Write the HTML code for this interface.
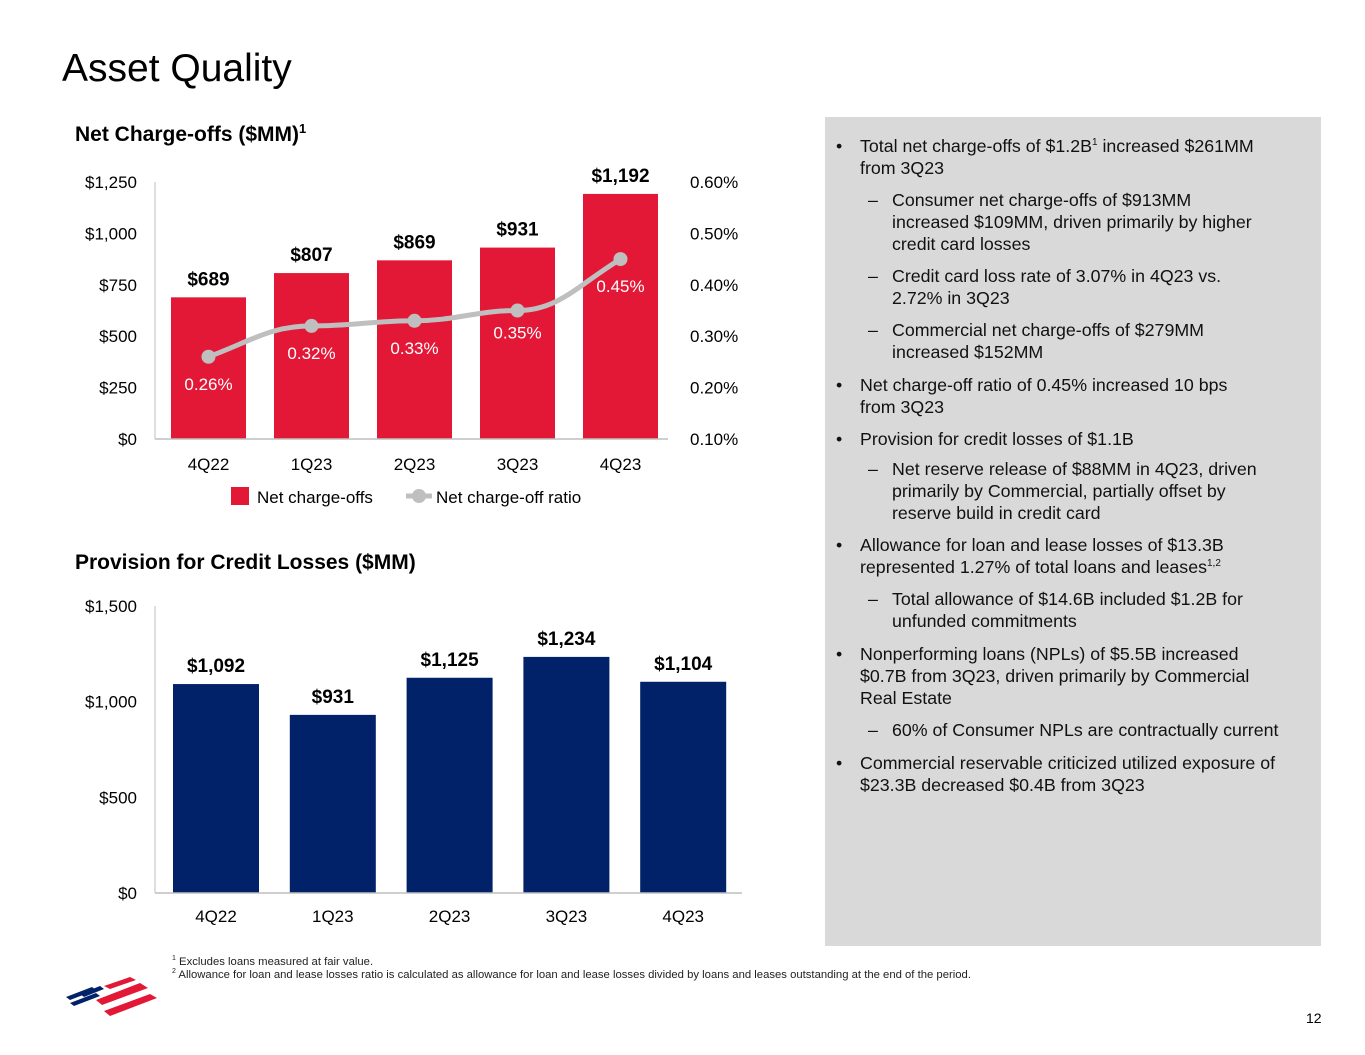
<!DOCTYPE html>
<html><head><meta charset="utf-8"><style>
body{margin:0;width:1365px;height:1055px;background:#fff;font-family:"Liberation Sans",sans-serif;color:#000;position:relative;overflow:hidden}
.abs{position:absolute}
.panel{left:825px;top:117px;width:496px;height:829px;background:#d9d9d9}
.pt{position:absolute;font-size:17.8px;line-height:22px;color:#111}
.pt .b{position:absolute;left:-24px}
sup{font-size:10px;line-height:0}
</style></head><body>
<div class="abs" style="left:62px;top:47px;font-size:39px">Asset Quality</div>
<div class="abs" style="left:75px;top:123px;font-size:21px;font-weight:bold">Net Charge-offs ($MM)<sup style="font-size:13px">1</sup></div>
<div class="abs" style="left:75px;top:551px;font-size:21px;font-weight:bold">Provision for Credit Losses ($MM)</div>

<svg class="abs" style="left:0;top:0" width="1365" height="1055">
<g id="c1"></g>
<g id="c2"></g>
<g>
<rect x="231" y="487" width="18" height="18" fill="#e31837"/>
<text x="257" y="503" font-size="17">Net charge-offs</text>
<line x1="406" y1="496" x2="432" y2="496" stroke="#bfbfbf" stroke-width="5"/>
<circle cx="419" cy="496" r="7" fill="#bfbfbf"/>
<text x="436" y="503" font-size="17">Net charge-off ratio</text>
</g>
<g>
<g fill="#012169"><polygon points="66,997 92,987 96,990 70,1000"/><polygon points="70,1003 96,993 100,996 74,1006"/><polygon points="80,994 100,986 104,989 84,997"/></g>
<g fill="#e31837"><polygon points="104,986 130,977 136,980 110,989"/><polygon points="96,1000 140,983 148,988 102,1005"/><polygon points="104,1011 150,994 157,998 110,1016"/></g>
</g>
</svg>

<div class="abs" style="left:172px;top:956px;font-size:11.3px;line-height:13px;color:#222">
<div><sup style="font-size:7px">1</sup> Excludes loans measured at fair value.</div>
<div><sup style="font-size:7px">2</sup> Allowance for loan and lease losses ratio is calculated as allowance for loan and lease losses divided by loans and leases outstanding at the end of the period.</div>
</div>
<div class="abs" style="left:1306px;top:1010px;font-size:14px">12</div>

<div class="abs panel">
<div class="pt" style="left:35px;top:18px"><span class="b">•</span>Total net charge-offs of $1.2B<sup>1</sup> increased $261MM<br>from 3Q23</div>
<div class="pt" style="left:67px;top:72px"><span class="b">–</span>Consumer net charge-offs of $913MM<br>increased $109MM, driven primarily by higher<br>credit card losses</div>
<div class="pt" style="left:67px;top:148px"><span class="b">–</span>Credit card loss rate of 3.07% in 4Q23 vs.<br>2.72% in 3Q23</div>
<div class="pt" style="left:67px;top:202px"><span class="b">–</span>Commercial net charge-offs of $279MM<br>increased $152MM</div>
<div class="pt" style="left:35px;top:257px"><span class="b">•</span>Net charge-off ratio of 0.45% increased 10 bps<br>from 3Q23</div>
<div class="pt" style="left:35px;top:311px"><span class="b">•</span>Provision for credit losses of $1.1B</div>
<div class="pt" style="left:67px;top:341px"><span class="b">–</span>Net reserve release of $88MM in 4Q23, driven<br>primarily by Commercial, partially offset by<br>reserve build in credit card</div>
<div class="pt" style="left:35px;top:417px"><span class="b">•</span>Allowance for loan and lease losses of $13.3B<br>represented 1.27% of total loans and leases<sup>1,2</sup></div>
<div class="pt" style="left:67px;top:471px"><span class="b">–</span>Total allowance of $14.6B included $1.2B for<br>unfunded commitments</div>
<div class="pt" style="left:35px;top:526px"><span class="b">•</span>Nonperforming loans (NPLs) of $5.5B increased<br>$0.7B from 3Q23, driven primarily by Commercial<br>Real Estate</div>
<div class="pt" style="left:67px;top:602px"><span class="b">–</span>60% of Consumer NPLs are contractually current</div>
<div class="pt" style="left:35px;top:635px"><span class="b">•</span>Commercial reservable criticized utilized exposure of<br>$23.3B decreased $0.4B from 3Q23</div>
</div>

<script>
const categories = ["4Q22","1Q23","2Q23","3Q23","4Q23"];
const ncoValues = [689,807,869,931,1192];
const ncoLabels = ["$689","$807","$869","$931","$1,192"];
const ratioValues = [0.26,0.32,0.33,0.35,0.45];
const ratioLabels = ["0.26%","0.32%","0.33%","0.35%","0.45%"];
const leftTicks1 = [0,250,500,750,1000,1250];
const leftTickLabels1 = ["$0","$250","$500","$750","$1,000","$1,250"];
const rightTicks1 = [0.10,0.20,0.30,0.40,0.50,0.60];
const rightTickLabels1 = ["0.10%","0.20%","0.30%","0.40%","0.50%","0.60%"];
const provValues = [1092,931,1125,1234,1104];
const provLabels = ["$1,092","$931","$1,125","$1,234","$1,104"];
const leftTicks2 = [0,500,1000,1500];
const leftTickLabels2 = ["$0","$500","$1,000","$1,500"];

const NS="http://www.w3.org/2000/svg";
function mk(parent,tag,attrs,text){const e=document.createElementNS(NS,tag);for(const k in attrs)e.setAttribute(k,attrs[k]);if(text!==undefined)e.textContent=text;parent.appendChild(e);return e;}

const c1=document.getElementById('c1');
const y1=v=>439-v*(257/1250);
const yr=v=>439-(v-0.10)*(257/0.5);
const x1=i=>208.5+i*103;
let e;
e=mk(c1,'line',{x1:155,y1:182,x2:155,y2:439,stroke:'#bfbfbf','stroke-width':1});


leftTicks1.forEach((t,i)=>{e=mk(c1,'text',{x:137,y:y1(t)+6,'text-anchor':'end','font-size':17},leftTickLabels1[i]);

});
rightTicks1.forEach((t,i)=>{e=mk(c1,'text',{x:690,y:yr(t)+6,'font-size':17},rightTickLabels1[i]);

});
categories.forEach((c,i)=>{
e=mk(c1,'rect',{x:x1(i)-37.5,y:y1(ncoValues[i]),width:75,height:439-y1(ncoValues[i]),fill:'#e31837'});


e=mk(c1,'text',{x:x1(i),y:y1(ncoValues[i])-12,'text-anchor':'middle','font-size':19,'font-weight':'bold'},ncoLabels[i]);


e=mk(c1,'text',{x:x1(i),y:470,'text-anchor':'middle','font-size':17},c);


});
e=mk(c1,'line',{x1:155,y1:439,x2:668,y2:439,stroke:'#bfbfbf','stroke-width':1.5});


const pts=ratioValues.map((v,i)=>[x1(i),yr(v)]);
let d='M'+pts[0][0]+','+pts[0][1];
for(let i=1;i<pts.length;i++){const p=pts[i-1],q=pts[i];const dx=(q[0]-p[0])/2.5;d+=` C${p[0]+dx},${p[1]-(i===1?15:0)} ${q[0]-dx},${q[1]+(i===4?25:0)} ${q[0]},${q[1]}`;}
e=mk(c1,'path',{d:d,fill:'none',stroke:'#bfbfbf','stroke-width':5});


pts.forEach((p,i)=>{
e=mk(c1,'circle',{cx:p[0],cy:p[1],r:7,fill:'#bfbfbf'});


e=mk(c1,'text',{x:p[0],y:p[1]+(i===3?28:33),'text-anchor':'middle','font-size':17,fill:'#fff'},ratioLabels[i]);


});

const c2=document.getElementById('c2');
const y2=v=>893-v*(287/1500);
const x2=i=>216+i*116.8;
e=mk(c2,'line',{x1:155,y1:606,x2:155,y2:893,stroke:'#bfbfbf','stroke-width':1});


leftTicks2.forEach((t,i)=>{e=mk(c2,'text',{x:137,y:y2(t)+6,'text-anchor':'end','font-size':17},leftTickLabels2[i]);

});
categories.forEach((c,i)=>{
e=mk(c2,'rect',{x:x2(i)-43,y:y2(provValues[i]),width:86,height:893-y2(provValues[i]),fill:'#012169'});


e=mk(c2,'text',{x:x2(i),y:y2(provValues[i])-12,'text-anchor':'middle','font-size':19,'font-weight':'bold'},provLabels[i]);


e=mk(c2,'text',{x:x2(i),y:922,'text-anchor':'middle','font-size':17},c);


});
e=mk(c2,'line',{x1:155,y1:893,x2:742,y2:893,stroke:'#bfbfbf','stroke-width':1.5});


</script>
</body></html>
